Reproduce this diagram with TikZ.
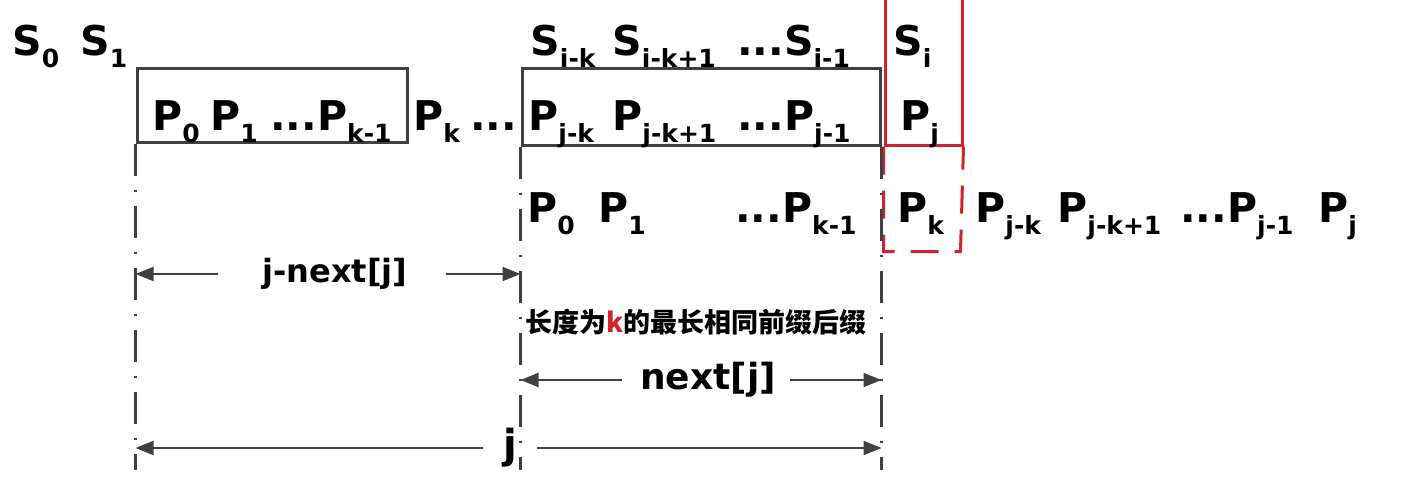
\documentclass[tikz,border=0pt]{standalone}
\usepackage{fontspec}
\setmainfont{DejaVu Sans}
\newfontfamily\cjk{Noto Sans CJK SC}
\usetikzlibrary{arrows.meta}

\definecolor{boxgray}{RGB}{64,64,64}
\definecolor{myred}{RGB}{210,35,45}

\newcommand\sx[1]{\raisebox{-0.3em}{\fontsize{12.5}{13}\selectfont #1}}
\newcommand\Pn[1]{P\sx{#1}}
\newcommand\Sn[1]{S\sx{#1}}

\tikzset{
  sym/.style={font=\fontsize{20.5}{24}\selectfont\bfseries, inner sep=0pt, anchor=base west},
  frame/.style={draw=boxgray, line width=1.5pt, inner sep=0pt},
  redframe/.style={draw=myred, line width=1.5pt, inner sep=0pt},
  guide/.style={draw=boxgray, line width=1.4pt, dash pattern=on 16pt off 7pt on 1pt off 7pt},
  dim/.style={draw=boxgray, line width=1pt, -{Triangle[length=9pt,width=7pt]}},
  dimlabel/.style={font=\fontsize{16}{18}\selectfont\bfseries, inner sep=2pt}
}

\begin{document}
\begin{tikzpicture}[x=0.5pt,y=-0.5pt]
  % 1. Define the frame and points
  \useasboundingbox (0,0) rectangle (1424,494);
  \coordinate (low) at (0,470);

  % 2. Boxes
  \node[frame, minimum width=135pt, minimum height=37pt] (box1) at (272,105) {};
  \node[frame, minimum width=179pt, minimum height=38.5pt] (box2) at (701,106.5) {};
  \node[redframe, minimum width=38.5pt, minimum height=76pt] (cur) at (923.5,69) {};
  \draw[myred, line width=1.5pt, dash pattern=on 14pt off 8pt]
    (cur.south west) -- ++(0,105) coordinate (pkCorner) -- ++(77,0) -- (cur.south east);

  % 3. Guide lines
  \draw[guide] (box1.south west) -- (box1.south west |- low);
  \draw[guide] (box2.south west) -- (box2.south west |- low);
  \draw[guide] (box2.south east) -- (box2.south east |- low);

  % 4. Row of S
  \node[sym] (s0) at (12,55) {\Sn{0}};
  \node[sym] (s1) at (80,55) {\Sn{1}};
  \node[sym] (sik) at (530,55) {\Sn{i-k}};
  \node[sym] (sik1) at (612,55) {\Sn{i-k+1}};
  \node[sym] (si1) at (737,55) {...\Sn{i-1}};
  \node[sym] (si) at (893,55) {\Sn{i}};

  % 5. Row of P
  \node[sym] (p0) at (152,130) {\Pn{0}};
  \node[sym] (p1) at (210,130) {\Pn{1}};
  \node[sym] (pk1) at (270,130) {...\Pn{k-1}};
  \node[sym] (pk) at (413,130) {\Pn{k}};
  \node[sym] (pdots) at (470,130) {...};
  \node[sym] (pjk) at (528,130) {\Pn{j-k}};
  \node[sym] (pjk1) at (612,130) {\Pn{j-k+1}};
  \node[sym] (pj1) at (737,130) {...\Pn{j-1}};
  \node[sym] (pj) at (900,130) {\Pn{j}};

  % 6. Shifted P
  \node[sym] (q0) at (527,222) {\Pn{0}};
  \node[sym] (q1) at (598,222) {\Pn{1}};
  \node[sym] (qk1) at (735,222) {...\Pn{k-1}};
  \node[sym] (qk) at (897,222) {\Pn{k}};
  \node[sym] (qjk) at (975,222) {\Pn{j-k}};
  \node[sym] (qjk1) at (1057,222) {\Pn{j-k+1}};
  \node[sym] (qj1) at (1180,222) {...\Pn{j-1}};
  \node[sym] (qj) at (1318,222) {\Pn{j}};

  % 7. Lengths
  \node[dimlabel] (jnext) at (335,274) {j-next[j]};
  \draw[dim] ([xshift=-20pt]jnext.west) -- (jnext.west -| box1.south west);
  \draw[dim] ([xshift=17pt]jnext.east) -- (jnext.east -| box2.south west);

  \node[font=\cjk\bfseries\fontsize{13.5}{15}\selectfont, inner sep=0pt] (same) at (696,322)
    {长度为\textcolor{myred}{k}的最长相同前缀后缀};

  \node[dimlabel, font=\fontsize{18}{20}\selectfont\bfseries] (nextj) at (708,380) {next[j]};
  \draw[dim] ([xshift=-7pt]nextj.west) -- (nextj.west -| box2.south west);
  \draw[dim] ([xshift=5pt]nextj.east) -- (nextj.east -| box2.south east);

  \node[dimlabel, font=\fontsize{20}{22}\selectfont\bfseries] (jlen) at (510,448) {j};
  \draw[dim] ([xshift=-8pt]jlen.west) -- (jlen.west -| box1.south west);
  \draw[dim] ([xshift=8pt]jlen.east) -- (jlen.east -| box2.south east);
\end{tikzpicture}
\end{document}
